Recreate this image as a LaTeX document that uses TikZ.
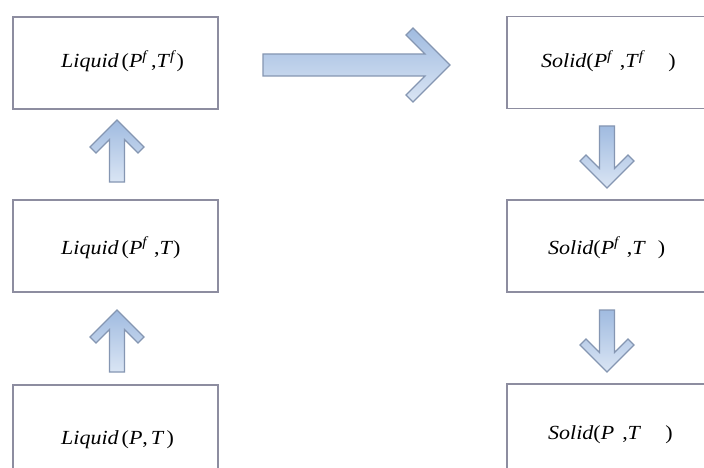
\documentclass[tikz,border=0pt]{standalone}
\usepackage{fontspec}
\setmainfont{Liberation Serif}[FakeStretch=1.1]
\definecolor{boxline}{RGB}{141,141,160}
\definecolor{arrline}{RGB}{133,150,178}
\definecolor{arrtop}{RGB}{160,187,224}
\definecolor{arrbot}{RGB}{218,229,244}
\tikzset{
  box/.style={draw=boxline, line width=1.4pt, fill=white, minimum width=205pt, minimum height=92pt, inner sep=0pt},
  lbl/.style={anchor=base west, inner sep=0pt, font=\fontsize{20}{23}\selectfont},
  rlbl/.style={anchor=base west, inner sep=0pt, font=\fontsize{20}{23}\selectfont},
  blockarrow/.style={draw=arrline, line width=1.1pt, line join=miter, top color=arrtop, bottom color=arrbot}
}
\begin{document}
\begin{tikzpicture}[x=1pt, y=-1pt]
\useasboundingbox (0,0) rectangle (704,468);
\clip (0,0) rectangle (704,468);
\fill[white] (0,0) rectangle (704,468);
% boxes
\node[box] (l1) at (115.5,63) {};
\node[box] (l2) at (115.5,246) {};
\node[box] (l3) at (115.5,431) {};
\node[box] (r1) at (609.5,62.5) {};
\node[box] (r2) at (609.5,246) {};
\node[box] (r3) at (609.5,430) {};
% labels
\node[lbl] (t1) at (61,68) {\textit{Liquid}\hspace{3pt}(\textit{P}\textsuperscript{\textit{f}}\hspace{2pt},\textit{T}\textsuperscript{\textit{f}})};
\node[lbl] (t2) at (61,254) {\textit{Liquid}\hspace{3pt}(\textit{P}\textsuperscript{\textit{f}}\hspace{5pt},\textit{T})};
\node[lbl] (t3) at (61,444) {\textit{Liquid}\hspace{3pt}(\textit{P},\hspace{3pt}\textit{T}\hspace{2pt})};
\node[rlbl] (t4) at (541,68) {\textit{Solid}(\textit{P}\textsuperscript{\textit{f}}\hspace{6pt},\textit{T}\textsuperscript{\textit{f}}\hspace{23pt})};
\node[rlbl] (t5) at (548,254) {\textit{Solid}(\textit{P}\textsuperscript{\textit{f}}\hspace{6pt},\textit{T}\hspace{12pt})};
\node[rlbl] (t6) at (548,439) {\textit{Solid}(\textit{P}\hspace{8pt},\textit{T}\hspace{24pt})};
% block arrows
\draw[blockarrow] (450,65) -- (413,28) -- (406,35) -- (425,54) -- (263,54) -- (263,76) -- (425,76) -- (406,95) -- (413,102) -- cycle;
\draw[blockarrow] (117,120) -- (144,147) -- (138,153) -- (124.5,139.5) -- (124.5,182) -- (109.5,182) -- (109.5,139.5) -- (96,153) -- (90,147) -- cycle;
\draw[blockarrow] (117,310) -- (144,337) -- (138,343) -- (124.5,329.5) -- (124.5,372) -- (109.5,372) -- (109.5,329.5) -- (96,343) -- (90,337) -- cycle;
\draw[blockarrow] (607,188) -- (634,161) -- (628,155) -- (614.5,168.5) -- (614.5,126) -- (599.5,126) -- (599.5,168.5) -- (586,155) -- (580,161) -- cycle;
\draw[blockarrow] (607,372) -- (634,345) -- (628,339) -- (614.5,352.5) -- (614.5,310) -- (599.5,310) -- (599.5,352.5) -- (586,339) -- (580,345) -- cycle;
\end{tikzpicture}
\end{document}
